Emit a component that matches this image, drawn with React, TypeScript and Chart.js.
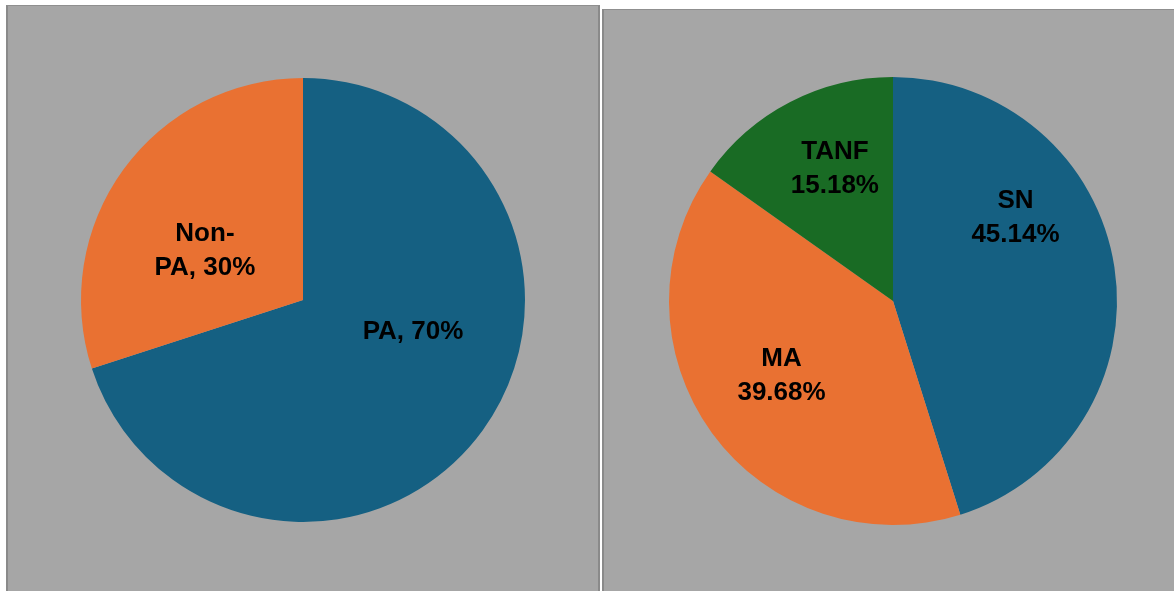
import React, { useEffect, useRef } from "react";
import { Chart, registerables } from "chart.js";

Chart.register(...registerables);

// ---- Data ----
const leftCategories = ["PA", "Non-PA"];
const leftValues = [70, 30];
const rightCategories = ["SN", "MA", "TANF"];
const rightValues = [45.14, 39.68, 15.18];

const leftColors = ["#156082", "#E97132"];
const rightColors = ["#156082", "#E97132", "#196B24"];

// label text builders
const leftLabelLines = leftCategories.map((c, i) => {
  const t = `${c}, ${leftValues[i]}%`;
  return c.includes("-") ? [c.split("-")[0] + "-", `${c.split("-")[1]}, ${leftValues[i]}%`] : [t];
});
const rightLabelLines = rightCategories.map((c, i) => [c, `${rightValues[i].toFixed(2)}%`]);

// label placement (angle offset in degrees from slice middle, radius fraction)
const leftPlacement = [
  { dAng: -19.8, frac: 0.516 },
  { dAng: -9.4, frac: 0.494 },
];
const rightPlacement = [
  { dAng: -25.3, frac: 0.66 },
  { dAng: 2.1, frac: 0.6 },
  { dAng: 3.6, frac: 0.645 },
];

const FONT = "bold 26px 'Liberation Sans', Arial, sans-serif";
const LINE_H = 34;

function makeLabelPlugin(lines: string[][], placement: { dAng: number; frac: number }[]) {
  return {
    id: "sliceLabels",
    afterDatasetsDraw(chart: any) {
      const ctx = chart.ctx;
      const meta = chart.getDatasetMeta(0);
      ctx.save();
      ctx.font = FONT;
      ctx.fillStyle = "#000000";
      ctx.textAlign = "center";
      ctx.textBaseline = "middle";
      meta.data.forEach((arc: any, i: number) => {
        const p = arc.getProps(["x", "y", "startAngle", "endAngle", "outerRadius"], true);
        const mid = (p.startAngle + p.endAngle) / 2 + (placement[i].dAng * Math.PI) / 180;
        const r = p.outerRadius * placement[i].frac;
        const cx = p.x + Math.cos(mid) * r;
        const cy = p.y + Math.sin(mid) * r;
        const ls = lines[i];
        const top = cy - ((ls.length - 1) * LINE_H) / 2;
        ls.forEach((t, k) => ctx.fillText(t, cx, top + k * LINE_H));
      });
      ctx.restore();
    },
  };
}

function PieChart(props: {
  labels: string[];
  values: number[];
  colors: string[];
  lines: string[][];
  placement: { dAng: number; frac: number }[];
  padding: { top: number; bottom: number; left: number; right: number };
}) {
  const ref = useRef<HTMLCanvasElement | null>(null);
  useEffect(() => {
    if (!ref.current) return;
    const chart = new Chart(ref.current, {
      type: "pie",
      data: {
        labels: props.labels,
        datasets: [
          {
            data: props.values,
            backgroundColor: props.colors,
            borderWidth: 0,
          },
        ],
      },
      options: {
        animation: false,
        responsive: true,
        maintainAspectRatio: false,
        layout: { padding: props.padding },
        plugins: {
          legend: { display: false },
          tooltip: { enabled: false },
        },
      },
      plugins: [makeLabelPlugin(props.lines, props.placement)],
    });
    return () => chart.destroy();
  }, []);
  return <canvas ref={ref} />;
}

export default function App() {
  const panelBase: React.CSSProperties = {
    position: "absolute",
    background: "#A6A6A6",
    boxSizing: "border-box",
    borderTop: "1px solid #8f8f8f",
    borderLeft: "2px solid #8a8a8a",
    borderRight: "2px solid #8a8a8a",
  };
  return (
    <div style={{ position: "fixed", left: 0, top: 0, width: 1174, height: 591, background: "#ffffff", overflow: "hidden" }}>
      <div style={{ ...panelBase, left: 6, top: 5, width: 594, height: 600 }}>
        <div style={{ position: "absolute", left: 0, top: 0, width: 590, height: 586 }}>
          <PieChart
            labels={leftCategories}
            values={leftValues}
            colors={leftColors}
            lines={leftLabelLines}
            placement={leftPlacement}
            padding={{ top: 72, bottom: 70, left: 73, right: 73 }}
          />
        </div>
      </div>
      <div style={{ ...panelBase, left: 602, top: 9, width: 580, height: 600, borderRight: "none" }}>
        <div style={{ position: "absolute", left: 0, top: 0, width: 570, height: 581 }}>
          <PieChart
            labels={rightCategories}
            values={rightValues}
            colors={rightColors}
            lines={rightLabelLines}
            placement={rightPlacement}
            padding={{ top: 67, bottom: 66, left: 65, right: 57 }}
          />
        </div>
      </div>
    </div>
  );
}
